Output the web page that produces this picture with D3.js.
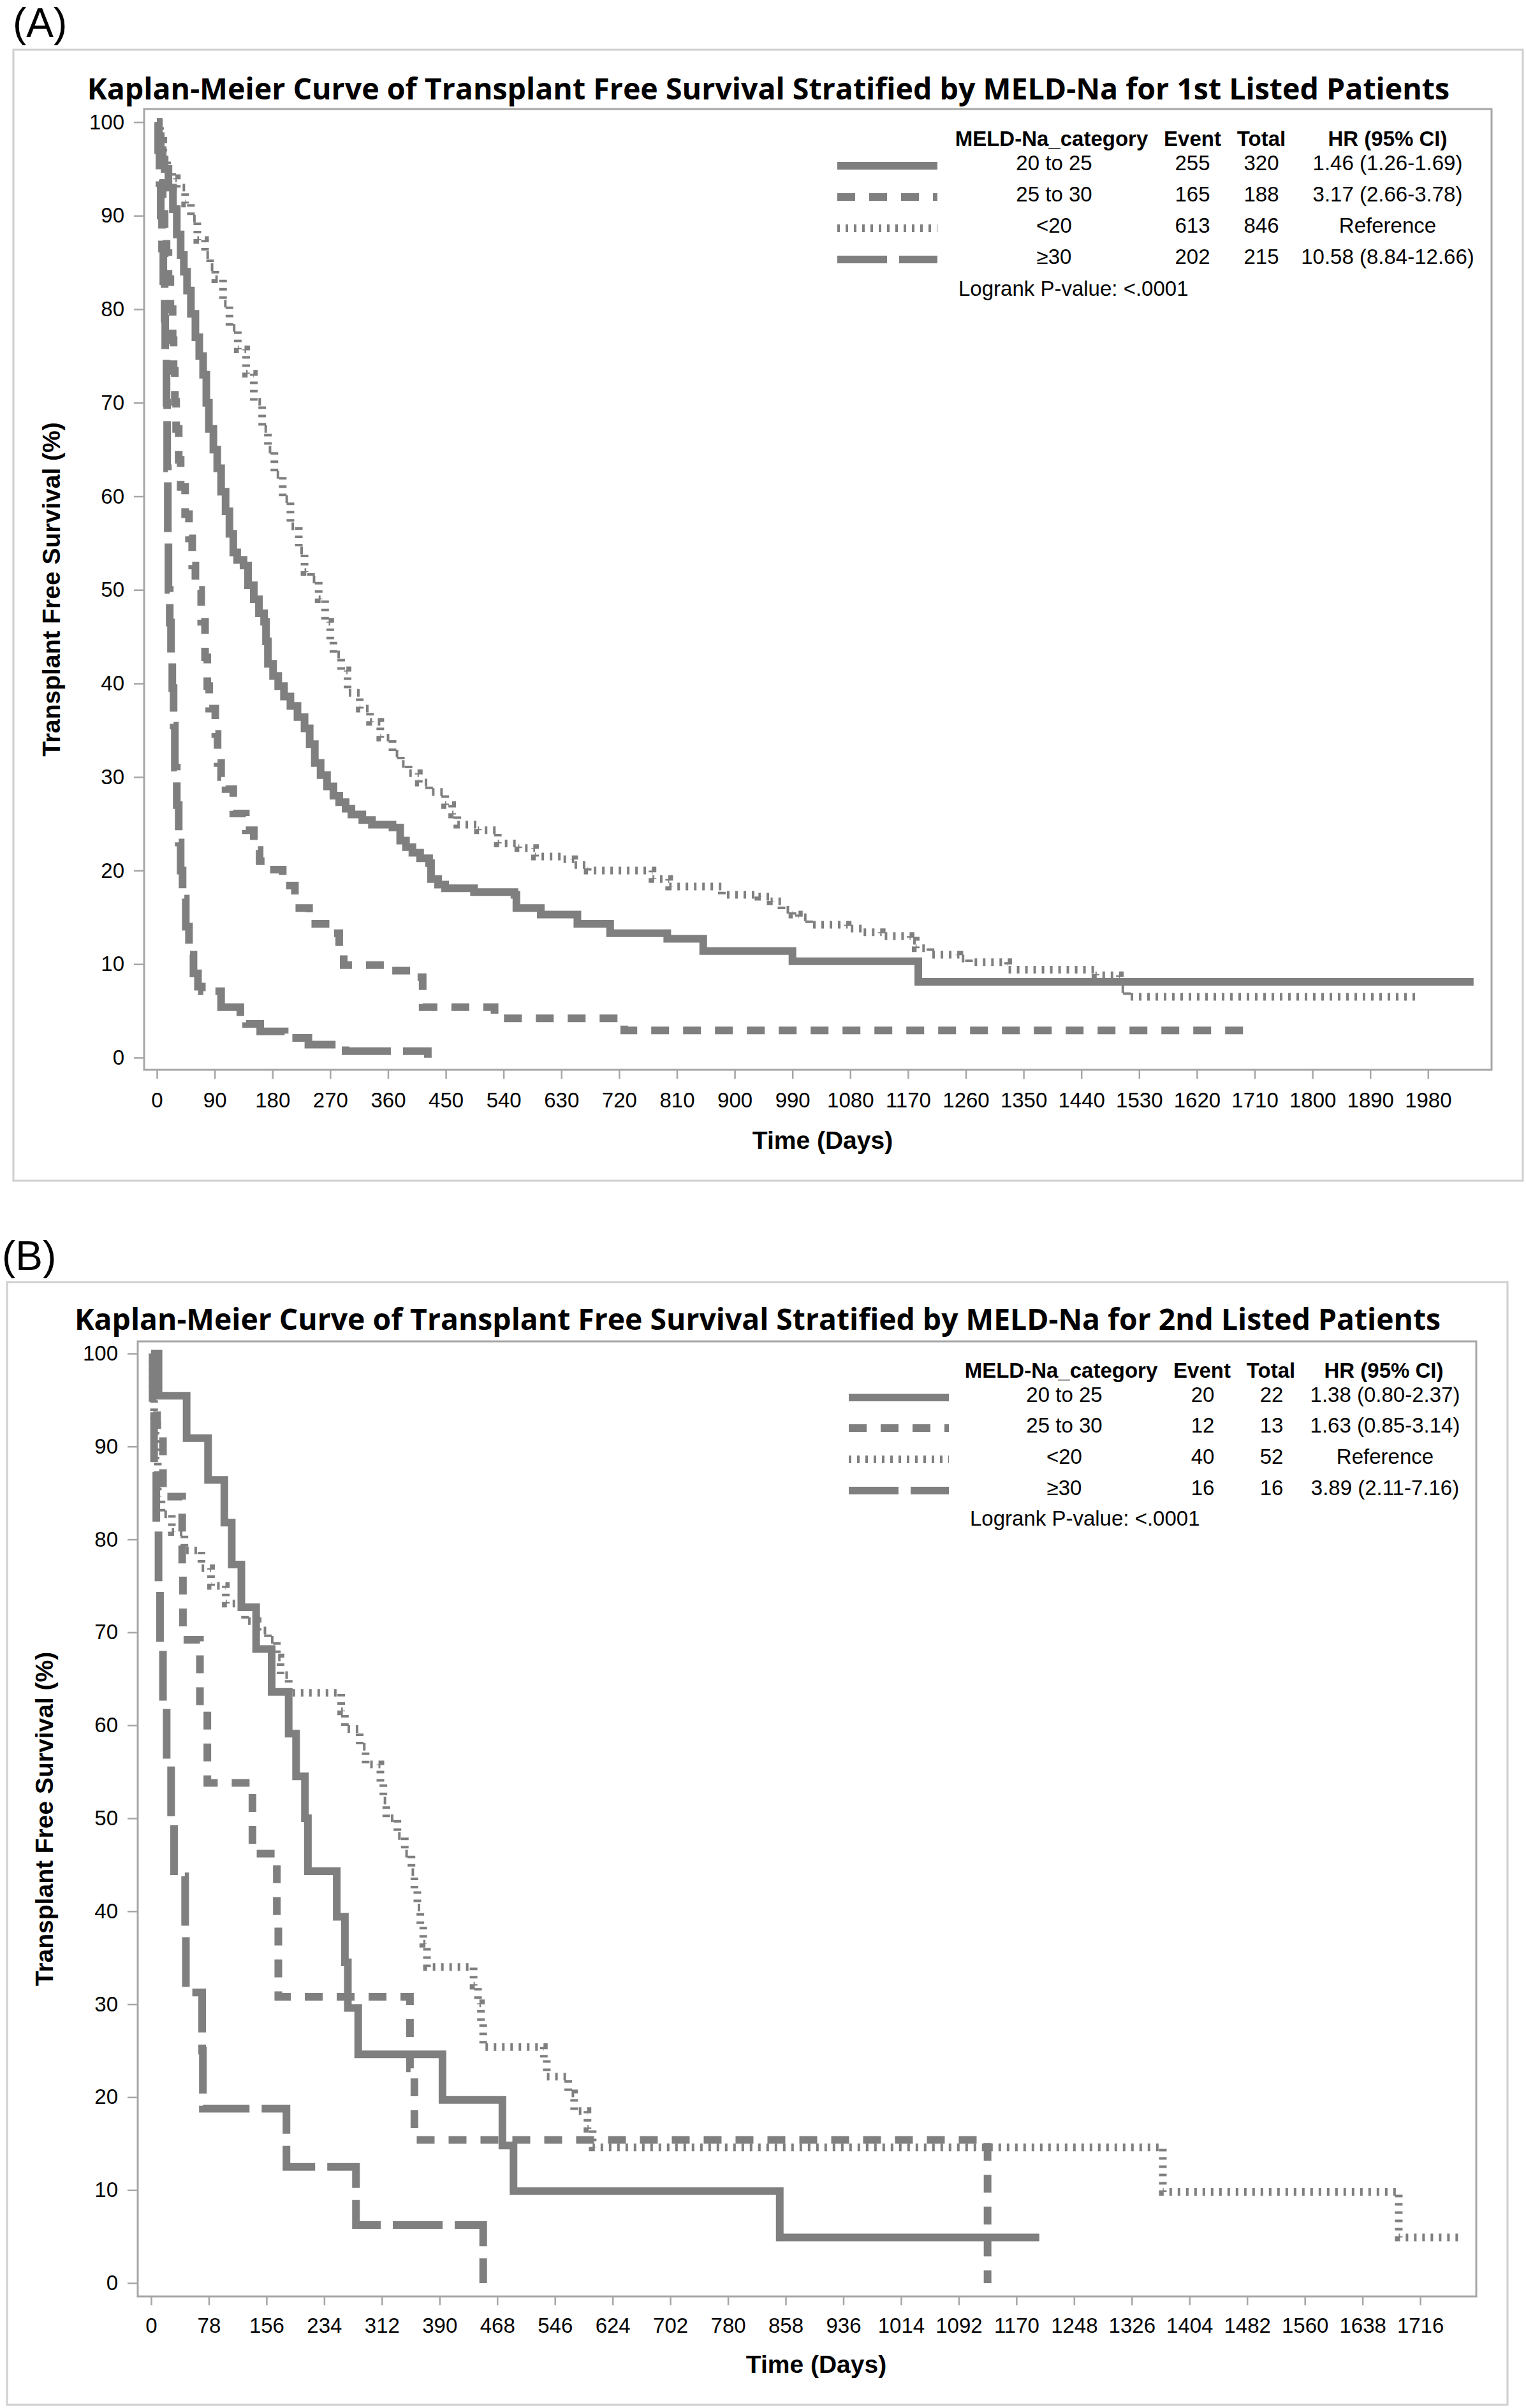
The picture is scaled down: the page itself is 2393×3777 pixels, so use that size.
<!DOCTYPE html>
<html>
<head>
<meta charset="utf-8">
<script src="https://cdn.jsdelivr.net/npm/d3@7"></script>
<style>
  body { margin: 0; background: #fff; }
  svg { display: block; }
</style>
</head>
<body>
<script>
// ---------------- data ----------------
const categories = ["20 to 25", "25 to 30", "<20", "\u226530"];

const eventsA = [255, 165, 613, 202];
const totalsA = [320, 188, 846, 215];
const hrA = ["1.46 (1.26-1.69)", "3.17 (2.66-3.78)", "Reference", "10.58 (8.84-12.66)"];

const eventsB = [20, 12, 40, 16];
const totalsB = [22, 13, 52, 16];
const hrB = ["1.38 (0.80-2.37)", "1.63 (0.85-3.14)", "Reference", "3.89 (2.11-7.16)"];

const survTicks = [0, 10, 20, 30, 40, 50, 60, 70, 80, 90, 100];
const dayTicksA = [0, 90, 180, 270, 360, 450, 540, 630, 720, 810, 900, 990, 1080, 1170,
  1260, 1350, 1440, 1530, 1620, 1710, 1800, 1890, 1980];
const dayTicksB = [0, 78, 156, 234, 312, 390, 468, 546, 624, 702, 780, 858, 936, 1014,
  1092, 1170, 1248, 1326, 1404, 1482, 1560, 1638, 1716];

// [day, survival %] — step-after points, last point = end of follow-up
const kmA_20to25 = [[0,100],[3,98.5],[6,97],[9,96],[12,95],[18,93],[25,90.7],[31,88],[37,85.8],
  [42,84],[47,82],[53,79.5],[60,77],[66,75],[72,73],[77,70],[81,67.2],[88,65],[94,63],[100,60.5],
  [107,58.4],[113,56],[119,54],[125,53.2],[135,52.6],[142,50.5],[151,49],[159,47.5],[167,46.6],
  [170,44.5],[173,42.1],[181,40.8],[189,39.7],[198,38.6],[208,37.6],[219,36.4],[230,35.2],
  [238,33.5],[246,31.5],[255,30.2],[265,29],[275,28],[284,27.3],[294,26.6],[303,26],[320,25.4],
  [335,24.9],[367,24.6],[379,23.2],[388,22.5],[398,21.9],[410,21.3],[424,20.8],[427,19.1],
  [438,18.5],[449,18.1],[494,17.7],[557,17.4],[560,16],[598,15.3],[655,14.3],[706,13.3],
  [795,12.7],[851,11.4],[990,10.3],[1186,8.1],[2051,8.1]];
const kmA_25to30 = [[0,100],[3,97],[6,94],[9,91],[12,88],[15,86],[18,83.2],[21,80],[24.5,76.7],
  [26,73.4],[28,70.1],[30,67.2],[34,63.9],[37,61],[44,58.1],[50,55.5],[55,52.6],[60,50],[69,46.6],
  [75,42.8],[78.5,39.7],[81.5,37.3],[91,34.6],[94.5,31.5],[100,30],[107,28.7],[119,26.1],
  [138.5,24.3],[151,22.2],[160,21],[170,20.1],[196,18.4],[215,16],[237,14.3],[272,13.3],
  [284,11.2],[291,9.9],[361,9.3],[398,8.6],[414,5.4],[526,4.2],[728,2.9],[1704,2.9]];
const kmA_lt20 = [[0,100],[5,98],[10,96],[16,95],[24,94],[31,93],[44,91.3],[53,89.7],[63,87.4],
  [75,85.8],[83,84.5],[91,83.2],[103,80.6],[113,78],[126,75.7],[139,73.1],[151,70.1],[164,67.2],
  [173,65],[183,62.3],[196,59.7],[208,56.8],[221,54.2],[230,51.9],[240,51.1],[252,49],[262,46.6],
  [270,44.5],[275,43.1],[287,41.4],[297,39],[316,37.3],[332,35.9],[348,34.2],[367,32.5],
  [380,31.4],[392,30.4],[408,29.4],[424,28.4],[449,27],[460,26],[468,24.9],[500,24.3],
  [531,22.9],[563,22.4],[589,21.5],[633,21.2],[650,20.6],[671,20],[772,19.1],[798,18.3],
  [880,17.4],[937,17.2],[956,16.7],[973,15.8],[990,15.3],[1000,15],[1016,14.2],[1076,13.8],
  [1099,13.4],[1129,13],[1174,12.5],[1182,11.7],[1205,11],[1250,10.6],[1265,10.2],[1326,9.4],
  [1462,8.8],[1500,7.3],[1511,6.5],[1965,6.5]];
const kmA_ge30 = [[0,100],[2,97],[4,93.5],[6,90],[8,86.5],[10,83],[12,79],[13,75],[15,70],
  [16,63],[17,56],[18,50],[20,46.5],[22,43],[24,39.5],[26,35.5],[28,31],[31,27],[34,23],[37,20],
  [40,17],[45,14],[50,11],[57,9],[64,7.6],[70,7.1],[100,5.4],[130,4.3],[139,3.6],[161,2.8],
  [199,2.1],[236,1.4],[294,0.7],[422,0]];

const kmB_20to25 = [[0,100],[10,95.45],[48,90.9],[77,86.4],[99,81.8],[109,77.3],[122,72.7],
  [142,68.2],[163,63.6],[186,59.1],[196,54.5],[208,50],[212,44.3],[251,39.4],[262,34.5],
  [266,29.6],[280,24.6],[394,19.7],[475,14.8],[490,9.9],[850,4.9],[1201,4.9]];
const kmB_25to30 = [[0,100],[8,92.3],[16,84.6],[42,76.9],[43,69.2],[66,61.5],[76,53.8],
  [137,46.2],[170,38.5],[172,30.8],[350,23.1],[356,15.4],[1131,0]];
const kmB_lt20 = [[0,100],[2,96.2],[4,92.3],[6,88.5],[9,84.6],[14,82.7],[28,80.8],[45,78.8],
  [68,76.9],[81,75],[101,73.1],[127,71.2],[144,70.2],[158,69.2],[170,67.3],[175,65.4],
  [186,63.5],[257,61.5],[262,59.6],[282,57.7],[290,55.8],[310,53.8],[314,51.9],[318,50],
  [333,48.1],[343,46.2],[352,44.2],[356,42.3],[360,40.4],[364,38.5],[368,36.5],[373,34],
  [436,32],[442,30.1],[446,28],[449,25.4],[531,24],[535,22.2],[564,20.4],[572,18.5],
  [590,16.6],[597,14.6],[1368,9.8],[1687,4.9],[1769,4.9]];
const kmB_ge30 = [[0,100],[2,93.75],[4,87.5],[7,81.25],[10,75],[12,68.75],[16,62.5],[21,56.25],
  [27,50],[31,43.75],[46,37.5],[47,31.25],[69,25],[70,18.75],[183,12.5],[277,6.25],[449,0]];

// ---------------- styling ----------------
const curveColor = "#7f7f7f";
const lineStyles = [
  { dash: null,    width: 12 },   // 20 to 25  solid
  { dash: "28 22", width: 12 },   // 25 to 30  dashed
  { dash: "4 9",   width: 12 },   // <20       dotted
  { dash: "78 19", width: 12 }    // >=30      long dash
];
const FONT = "'Liberation Sans', Arial, sans-serif";

const svg = d3.select("body").append("svg")
  .attr("width", 2393)
  .attr("height", 3777)
  .style("background", "#fff");

function drawPanel(p) {
  const g = svg.append("g");

  // outer panel border
  g.append("rect")
    .attr("x", p.box[0]).attr("y", p.box[1])
    .attr("width", p.box[2] - p.box[0]).attr("height", p.box[3] - p.box[1])
    .attr("fill", "none").attr("stroke", "#cfcfcf").attr("stroke-width", 3);

  // panel letter
  g.append("text")
    .attr("x", p.letterX).attr("y", p.letterY)
    .style("font-family", FONT).style("font-size", "64px")
    .text(p.letter);

  // title, fitted to the width seen in the picture
  const title = g.append("text")
    .attr("x", p.titleX).attr("y", p.titleY)
    .attr("text-anchor", "middle")
    .style("font-family", "'Open Sans', " + FONT)
    .style("font-weight", 700)
    .style("font-size", "44px")
    .text(p.title);
  const tw = title.node().getComputedTextLength();
  title.style("font-size", (44 * p.titleW / tw) + "px");

  const x = d3.scaleLinear().domain(p.xDomain).range([p.frame[0], p.frame[2]]);
  const y = d3.scaleLinear().domain(p.yDomain).range([p.frame[3], p.frame[1]]);

  // plot wall outline
  g.append("rect")
    .attr("x", p.frame[0]).attr("y", p.frame[1])
    .attr("width", p.frame[2] - p.frame[0]).attr("height", p.frame[3] - p.frame[1])
    .attr("fill", "none").attr("stroke", "#a6a6a6").attr("stroke-width", 3);

  // axes
  const xAxis = g.append("g")
    .attr("transform", `translate(0,${p.frame[3]})`)
    .call(d3.axisBottom(x).tickValues(p.xTicks).tickSizeInner(14).tickSizeOuter(0)
      .tickPadding(p.xPad).tickFormat(d3.format("d")));
  const yAxis = g.append("g")
    .attr("transform", `translate(${p.frame[0]},0)`)
    .call(d3.axisLeft(y).tickValues(survTicks).tickSizeInner(16).tickSizeOuter(0)
      .tickPadding(15).tickFormat(d3.format("d")));
  [xAxis, yAxis].forEach((a) => {
    a.select(".domain").remove();
    a.selectAll(".tick line").attr("stroke", "#a6a6a6").attr("stroke-width", 2.5);
    a.selectAll(".tick text")
      .style("font-family", FONT).style("font-size", "33px").attr("fill", "#000");
  });

  // axis titles
  g.append("text")
    .attr("x", p.xLabelX).attr("y", p.xLabelY)
    .attr("text-anchor", "middle")
    .style("font-family", FONT).style("font-weight", "bold").style("font-size", "39px")
    .text("Time (Days)");
  const yMid = (p.frame[1] + p.frame[3]) / 2;
  g.append("text")
    .attr("transform", `translate(${p.yLabelX},${yMid}) rotate(-90)`)
    .attr("text-anchor", "middle")
    .attr("dominant-baseline", "central")
    .style("font-family", FONT).style("font-weight", "bold").style("font-size", "39px")
    .text("Transplant Free Survival (%)");

  // survival curves
  const line = d3.line()
    .x((d) => x(d[0]))
    .y((d) => y(d[1]))
    .curve(d3.curveStepAfter);
  p.series.forEach((s, i) => {
    g.append("path")
      .datum(s)
      .attr("d", line)
      .attr("fill", "none")
      .attr("stroke", curveColor)
      .attr("stroke-width", lineStyles[i].width)
      .attr("stroke-dasharray", lineStyles[i].dash)
      .attr("stroke-linejoin", "miter");
  });

  // inset legend table
  const L = p.legend;
  const headers = ["MELD-Na_category", "Event", "Total", "HR (95% CI)"];
  headers.forEach((h, j) => {
    g.append("text")
      .attr("x", L.headCols[j]).attr("y", L.headerY + 12)
      .attr("text-anchor", "middle")
      .style("font-family", FONT).style("font-weight", "bold").style("font-size", "33px")
      .text(h);
  });
  categories.forEach((c, i) => {
    const ry = L.rowY[i];
    g.append("line")
      .attr("x1", L.sampleX[0]).attr("x2", L.sampleX[1])
      .attr("y1", ry + 5).attr("y2", ry + 5)
      .attr("stroke", curveColor)
      .attr("stroke-width", lineStyles[i].width)
      .attr("stroke-dasharray", lineStyles[i].dash);
    [c, p.events[i], p.totals[i], p.hr[i]].forEach((v, j) => {
      g.append("text")
        .attr("x", L.cols[j]).attr("y", ry + 12)
        .attr("text-anchor", "middle")
        .style("font-family", FONT).style("font-size", "33px")
        .text(v);
    });
  });
  g.append("text")
    .attr("x", L.logX).attr("y", L.logY + 12)
    .style("font-family", FONT).style("font-size", "33px")
    .text("Logrank P-value: <.0001");
}

drawPanel({
  letter: "(A)", letterX: 20, letterY: 58,
  box: [21, 78, 2388, 1852],
  title: "Kaplan-Meier Curve of Transplant Free Survival Stratified by MELD-Na for 1st Listed Patients",
  titleX: 1205, titleY: 156, titleW: 2137,
  frame: [226, 171, 2339, 1678],
  xDomain: [-19.9, 2079], yDomain: [-1.3, 101.4],
  xTicks: dayTicksA, xPad: 22,
  xLabelX: 1290, xLabelY: 1802, yLabelX: 80,
  legend: {
    sampleX: [1313, 1470], headerY: 217, rowY: [255, 304, 353, 402],
    logX: 1503, logY: 452,
    cols: [1653, 1870, 1978, 2176], headCols: [1649, 1870, 1978, 2176]
  },
  series: [kmA_20to25, kmA_25to30, kmA_lt20, kmA_ge30],
  events: eventsA, totals: totalsA, hr: hrA
});

drawPanel({
  letter: "(B)", letterX: 3, letterY: 1992,
  box: [11, 2011, 2364, 3772],
  title: "Kaplan-Meier Curve of Transplant Free Survival Stratified by MELD-Na for 2nd Listed Patients",
  titleX: 1188, titleY: 2086, titleW: 2143,
  frame: [216, 2104, 2315, 3602],
  xDomain: [-18.1, 1791.8], yDomain: [-1.44, 101.3],
  xTicks: dayTicksB, xPad: 20,
  xLabelX: 1280, xLabelY: 3722, yLabelX: 69,
  legend: {
    sampleX: [1331, 1488], headerY: 2149, rowY: [2187, 2235, 2284, 2333],
    logX: 1521, logY: 2381,
    cols: [1669, 1886, 1994, 2172], headCols: [1664, 1885, 1993, 2170]
  },
  series: [kmB_20to25, kmB_25to30, kmB_lt20, kmB_ge30],
  events: eventsB, totals: totalsB, hr: hrB
});
</script>
</body>
</html>
